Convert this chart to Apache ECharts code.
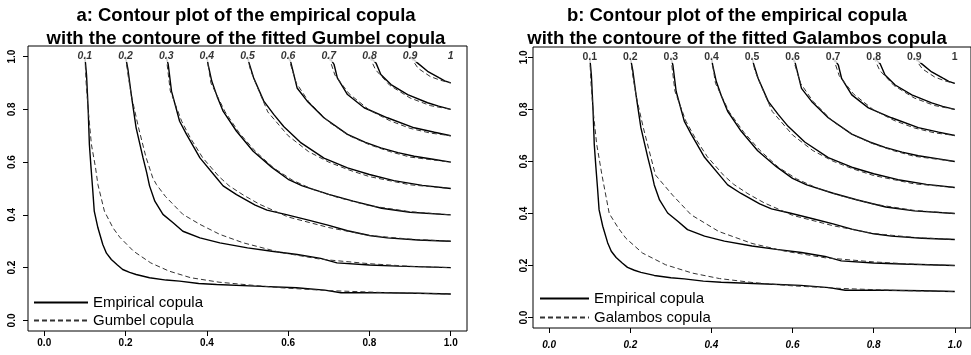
<!DOCTYPE html>
<html>
<head>
<meta charset="utf-8" />
<title>Copula contours</title>
<script src="https://cdn.jsdelivr.net/npm/echarts@6/dist/echarts.min.js"></script>
</head>
<body style="margin:0;background:#fff">
<div id="main" style="width:971px;height:355px;"></div>
<script type="text/javascript">
// contour levels written along the top edge
var levels = [0.1, 0.2, 0.3, 0.4, 0.5, 0.6, 0.7, 0.8, 0.9, 1];
var levelLabels = ['0.1', '0.2', '0.3', '0.4', '0.5', '0.6', '0.7', '0.8', '0.9', '1'];
var ticks = [0, 0.2, 0.4, 0.6, 0.8, 1];

// empirical copula contours [u, v] (same sample in both panels)
var emp1 = [[0.10,1.00],[0.104,0.93],[0.108,0.80],[0.111,0.667],[0.115,0.58],[0.119,0.50],[0.123,0.414],[0.132,0.351],[0.144,0.288],[0.153,0.255],[0.165,0.231],[0.18,0.21],[0.193,0.193],[0.21,0.182],[0.226,0.174],[0.259,0.162],[0.30,0.153],[0.333,0.149],[0.38,0.14],[0.424,0.136],[0.52,0.130],[0.62,0.124],[0.69,0.115],[0.73,0.105],[0.83,0.105],[0.92,0.103],[1.0,0.10]];
var emp2 = [[0.20,1.00],[0.206,0.95],[0.214,0.856],[0.226,0.73],[0.243,0.616],[0.252,0.56],[0.259,0.51],[0.272,0.452],[0.292,0.402],[0.317,0.37],[0.341,0.338],[0.383,0.313],[0.432,0.294],[0.50,0.275],[0.56,0.262],[0.622,0.25],[0.68,0.235],[0.72,0.218],[0.80,0.21],[0.87,0.206],[1.0,0.20]];
var emp3 = [[0.30,1.00],[0.305,0.97],[0.313,0.869],[0.333,0.755],[0.35,0.705],[0.383,0.616],[0.424,0.54],[0.44,0.51],[0.473,0.477],[0.519,0.437],[0.548,0.418],[0.593,0.402],[0.65,0.38],[0.70,0.36],[0.746,0.34],[0.80,0.322],[0.844,0.313],[0.92,0.305],[1.0,0.30]];
var emp4 = [[0.40,1.00],[0.403,0.97],[0.412,0.907],[0.425,0.85],[0.44,0.793],[0.473,0.717],[0.514,0.641],[0.56,0.58],[0.60,0.535],[0.635,0.51],[0.70,0.478],[0.76,0.452],[0.83,0.425],[0.90,0.41],[1.0,0.40]];
var emp5 = [[0.50,1.00],[0.503,0.98],[0.515,0.92],[0.54,0.831],[0.565,0.78],[0.589,0.735],[0.63,0.675],[0.688,0.615],[0.746,0.578],[0.80,0.553],[0.86,0.53],[0.93,0.512],[1.0,0.50]];
var emp6 = [[0.60,1.00],[0.606,0.982],[0.622,0.881],[0.647,0.831],[0.688,0.768],[0.746,0.705],[0.79,0.675],[0.828,0.654],[0.87,0.636],[0.91,0.622],[0.96,0.61],[1.0,0.60]];
var emp7 = [[0.70,1.00],[0.713,0.97],[0.721,0.919],[0.746,0.856],[0.787,0.806],[0.844,0.768],[0.91,0.73],[0.96,0.713],[1.0,0.70]];
var emp8 = [[0.80,1.00],[0.816,0.976],[0.828,0.932],[0.853,0.894],[0.894,0.856],[0.943,0.825],[0.97,0.812],[1.0,0.80]];
var emp9 = [[0.90,1.00],[0.918,0.976],[0.943,0.944],[0.972,0.919],[0.985,0.908],[1.0,0.90]];

// fitted Gumbel copula contours (panel a)
var gum1 = [[0.10,1.00],[0.103,0.90],[0.108,0.80],[0.116,0.667],[0.126,0.58],[0.132,0.515],[0.148,0.414],[0.169,0.351],[0.186,0.315],[0.22,0.262],[0.262,0.218],[0.307,0.187],[0.36,0.162],[0.43,0.145],[0.50,0.135],[0.58,0.124],[0.70,0.113],[0.85,0.105],[1.0,0.10]];
var gum2 = [[0.20,1.00],[0.207,0.92],[0.216,0.84],[0.232,0.73],[0.25,0.62],[0.267,0.54],[0.276,0.515],[0.298,0.47],[0.341,0.402],[0.383,0.364],[0.432,0.326],[0.49,0.294],[0.58,0.258],[0.68,0.232],[0.80,0.215],[0.90,0.205],[1.0,0.20]];
var gum3 = [[0.30,1.00],[0.31,0.87],[0.338,0.755],[0.36,0.69],[0.39,0.616],[0.43,0.545],[0.455,0.51],[0.49,0.475],[0.53,0.44],[0.60,0.392],[0.70,0.352],[0.80,0.322],[0.90,0.308],[1.0,0.30]];
var gum4 = [[0.40,1.00],[0.41,0.90],[0.445,0.79],[0.48,0.71],[0.52,0.64],[0.565,0.577],[0.61,0.532],[0.66,0.497],[0.72,0.467],[0.80,0.435],[0.90,0.412],[1.0,0.40]];
var gum5 = [[0.50,1.00],[0.507,0.95],[0.52,0.90],[0.55,0.79],[0.60,0.70],[0.65,0.64],[0.70,0.60],[0.75,0.57],[0.80,0.545],[0.90,0.514],[1.0,0.50]];
var gum6 = [[0.60,1.00],[0.62,0.90],[0.65,0.83],[0.70,0.752],[0.75,0.70],[0.80,0.666],[0.85,0.64],[0.90,0.619],[1.0,0.60]];
var gum7 = [[0.70,1.00],[0.715,0.93],[0.75,0.859],[0.80,0.797],[0.85,0.757],[0.90,0.728],[0.95,0.71],[1.0,0.70]];
var gum8 = [[0.80,1.00],[0.815,0.95],[0.85,0.891],[0.90,0.843],[0.95,0.814],[1.0,0.80]];
var gum9 = [[0.90,1.00],[0.92,0.955],[0.95,0.924],[0.975,0.91],[1.0,0.90]];

// fitted Galambos copula contours (panel b)
var gal1 = [[0.10,1.00],[0.103,0.90],[0.108,0.80],[0.117,0.667],[0.13,0.548],[0.148,0.40],[0.17,0.345],[0.189,0.305],[0.23,0.248],[0.287,0.203],[0.353,0.171],[0.42,0.15],[0.50,0.135],[0.60,0.122],[0.72,0.112],[0.86,0.104],[1.0,0.10]];
var gal2 = [[0.20,1.00],[0.207,0.92],[0.216,0.84],[0.232,0.73],[0.25,0.62],[0.262,0.548],[0.304,0.471],[0.35,0.395],[0.418,0.331],[0.50,0.285],[0.582,0.255],[0.68,0.23],[0.80,0.214],[0.90,0.205],[1.0,0.20]];
var gal3 = [[0.30,1.00],[0.31,0.87],[0.337,0.755],[0.36,0.69],[0.39,0.618],[0.43,0.547],[0.455,0.512],[0.49,0.476],[0.53,0.441],[0.60,0.393],[0.70,0.353],[0.80,0.323],[0.90,0.308],[1.0,0.30]];
var gal4 = [[0.40,1.00],[0.41,0.90],[0.444,0.79],[0.48,0.712],[0.52,0.642],[0.565,0.578],[0.61,0.533],[0.66,0.498],[0.72,0.468],[0.80,0.436],[0.90,0.412],[1.0,0.40]];
var gal5 = [[0.50,1.00],[0.507,0.95],[0.52,0.90],[0.55,0.792],[0.60,0.702],[0.65,0.642],[0.70,0.601],[0.75,0.571],[0.80,0.546],[0.90,0.514],[1.0,0.50]];
var gal6 = [[0.60,1.00],[0.62,0.90],[0.65,0.832],[0.70,0.753],[0.75,0.701],[0.80,0.667],[0.85,0.641],[0.90,0.62],[1.0,0.60]];
var gal7 = [[0.70,1.00],[0.715,0.93],[0.75,0.86],[0.80,0.798],[0.85,0.758],[0.90,0.729],[0.95,0.71],[1.0,0.70]];
var gal8 = [[0.80,1.00],[0.815,0.95],[0.85,0.892],[0.90,0.844],[0.95,0.815],[1.0,0.80]];
var gal9 = [[0.90,1.00],[0.92,0.956],[0.95,0.925],[0.975,0.91],[1.0,0.90]];

var empCurves = [emp1, emp2, emp3, emp4, emp5, emp6, emp7, emp8, emp9];
var gumCurves = [gum1, gum2, gum3, gum4, gum5, gum6, gum7, gum8, gum9];
var galCurves = [gal1, gal2, gal3, gal4, gal5, gal6, gal7, gal8, gal9];

var FONT = 'Liberation Sans, Arial, sans-serif';
var myChart = echarts.init(document.getElementById('main'));

function curve(name, pts, idx, dashed) {
  return {
    type: 'line',
    name: name,
    xAxisIndex: idx,
    yAxisIndex: idx,
    data: pts,
    symbol: 'none',
    silent: true,
    animation: false,
    itemStyle: { color: '#000' },
    lineStyle: dashed
      ? { color: '#333', width: 1, type: [5, 3] }
      : { color: '#000', width: 1.4 }
  };
}

function levelMarks(idx, italic) {
  return {
    type: 'scatter',
    xAxisIndex: idx,
    yAxisIndex: idx,
    symbolSize: 1,
    silent: true,
    animation: false,
    z: 10,
    itemStyle: { color: 'rgba(0,0,0,0)' },
    data: levels.map(function (l, i) { return { value: [l, 1], name: levelLabels[i] }; }),
    label: {
      show: true,
      position: 'inside',
      formatter: function (p) { return p.name; },
      color: '#000',
      fontSize: 10.5,
      fontWeight: 'bold',
      fontStyle: italic ? 'italic' : 'normal',
      fontFamily: FONT,
      backgroundColor: '#fff',
      padding: [0, 1]
    }
  };
}

function xAxis(idx, italic, margin) {
  return {
    gridIndex: idx, type: 'value', min: -0.04, max: 1.04,
    axisLine: { show: false, onZero: false },
    splitLine: { show: false },
    axisTick: { show: true, customValues: ticks, length: 5, lineStyle: { color: '#000' } },
    axisLabel: {
      customValues: ticks, margin: margin, color: '#000', fontSize: 10,
      fontWeight: 'bold', fontStyle: italic ? 'italic' : 'normal', fontFamily: FONT,
      formatter: function (v) { return v.toFixed(1); }
    }
  };
}

function yAxis(idx, margin) {
  return {
    gridIndex: idx, type: 'value', min: -0.04, max: 1.04,
    axisLine: { show: false, onZero: false },
    splitLine: { show: false },
    axisTick: { show: true, customValues: ticks, length: 5, lineStyle: { color: '#000' } },
    axisLabel: {
      customValues: ticks, margin: margin, rotate: 90, color: '#000', fontSize: 10,
      fontWeight: 'bold', fontFamily: FONT,
      formatter: function (v) { return v.toFixed(1); }
    }
  };
}

var series = [];
empCurves.forEach(function (c) { series.push(curve('Empirical copula', c, 0, false)); });
gumCurves.forEach(function (c) { series.push(curve('Gumbel copula', c, 0, true)); });
empCurves.forEach(function (c) { series.push(curve('Empirical copula', c, 1, false)); });
galCurves.forEach(function (c) { series.push(curve('Galambos copula', c, 1, true)); });
series.push(levelMarks(0, true));
series.push(levelMarks(1, false));

var titleStyle = { fontSize: 18.5, fontWeight: 'bold', lineHeight: 23, color: '#000', fontFamily: FONT };
var legendText = { fontSize: 15, color: '#000', fontFamily: FONT };

var option = {
  backgroundColor: '#fff',
  animation: false,
  title: [
    { text: 'a: Contour plot of the empirical copula\nwith the contoure of the fitted Gumbel copula',
      left: 246, top: 4, padding: 0, textAlign: 'center', textStyle: titleStyle },
    { text: 'b: Contour plot of the empirical copula\nwith the contoure of the fitted Galambos copula',
      left: 737, top: 4, padding: 0, textAlign: 'center', textStyle: titleStyle }
  ],
  legend: [
    { data: ['Empirical copula', 'Gumbel copula'], orient: 'vertical', left: 33, top: 295, padding: 0,
      itemWidth: 54, itemHeight: 2, itemGap: 3, selectedMode: false, textStyle: legendText,
      itemStyle: { opacity: 0 } },
    { data: ['Empirical copula', 'Galambos copula'], orient: 'vertical', left: 539, top: 291, padding: 0,
      itemWidth: 49, itemHeight: 2, itemGap: 4, selectedMode: false, textStyle: legendText,
      itemStyle: { opacity: 0 } }
  ],
  grid: [
    { left: 28, top: 46, width: 439, height: 285, show: true, borderColor: '#000', borderWidth: 1, backgroundColor: 'transparent' },
    { left: 533, top: 47, width: 439, height: 281, show: true, borderColor: '#000', borderWidth: 1, backgroundColor: 'transparent' }
  ],
  xAxis: [xAxis(0, false, 7), xAxis(1, true, 12)],
  yAxis: [yAxis(0, 11), yAxis(1, 4)],
  series: series
};
option && myChart.setOption(option);
</script>
</body>
</html>
